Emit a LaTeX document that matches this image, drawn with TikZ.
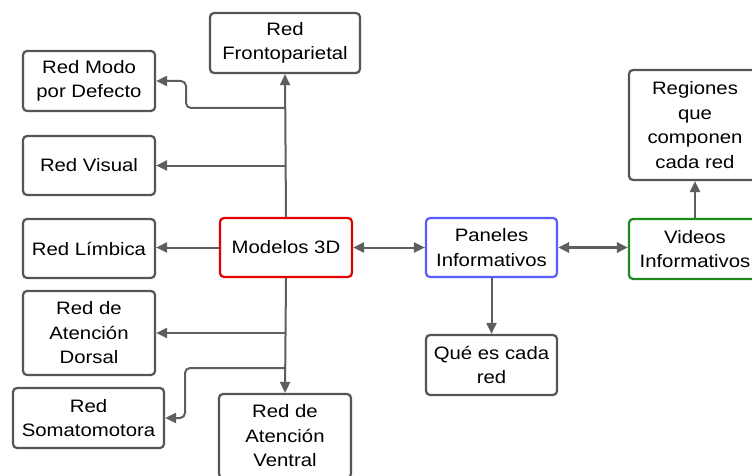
\documentclass[tikz,border=0pt]{standalone}
\usepackage{fontspec}
\setmainfont[FakeStretch=1.13]{Liberation Sans}
\usetikzlibrary{arrows.meta}
\definecolor{lgray}{HTML}{5E5E5E}
\definecolor{bgray}{HTML}{555555}
\definecolor{bred}{HTML}{E00000}
\definecolor{bblue}{HTML}{5B5BFF}
\definecolor{bgreen}{HTML}{1E8A1E}
\tikzset{
  box/.style={draw=bgray, line width=2.2pt, rounded corners=4pt, fill=white,
    align=center, inner sep=0pt, font=\fontsize{18}{24.5}\selectfont,
    text=black},
  conn/.style={draw=lgray, line width=2pt, rounded corners=5pt,
    -{Triangle[length=11pt,width=10pt]}},
  dconn/.style={conn, {Triangle[length=11pt,width=10pt]}-{Triangle[length=11pt,width=10pt]}},
}
\begin{document}
\begin{tikzpicture}[x=1pt,y=-1pt]
\clip (0,0) rectangle (752,476);
\fill[white] (0,0) rectangle (752,476);
% nodes
\node[box, minimum width=150pt, minimum height=60pt] (fp) at (285,43) {Red\\Frontoparietal};
\node[box, minimum width=132pt, minimum height=60pt] (modo) at (89,81) {Red Modo\\por Defecto};
\node[box, minimum width=132pt, minimum height=59pt] (visual) at (89,165.5) {Red Visual};
\node[box, minimum width=132pt, minimum height=59pt] (limb) at (89,248.5) {Red Límbica};
\node[box, draw=bred, minimum width=132pt, minimum height=59pt] (m3d) at (286,247.5) {Modelos 3D};
\node[box, minimum width=132pt, minimum height=84pt] (dorsal) at (89,333) {Red de\\Atención\\Dorsal};
\node[box, minimum width=151pt, minimum height=60pt] (soma) at (88.5,418) {Red\\Somatomotora};
\node[box, minimum width=132pt, minimum height=84pt] (ventral) at (285,436) {Red de\\Atención\\Ventral};
\node[box, draw=bblue, minimum width=131pt, minimum height=59pt] (pan) at (491.5,247.5) {Paneles\\Informativos};
\node[box, minimum width=131pt, minimum height=60pt] (que) at (491.5,365) {Qué es cada\\red};
\node[box, draw=bgreen, minimum width=132pt, minimum height=60pt] (vid) at (695,249) {Videos\\Informativos};
\node[box, minimum width=132pt, minimum height=110pt] (reg) at (695,125) {Regiones\\que\\componen\\cada red};
% connectors
\coordinate (tt) at (286,108);
\coordinate (tv) at (286,165.5);
\coordinate (bd) at (286,333);
\coordinate (bs) at (286,368);
\draw[conn] (m3d.north) -- (fp.south);
\draw[conn] (tt) -- (186,108) -- (186,81) -- (modo.east);
\draw[conn] (tv) -- (visual.east);
\draw[conn] (m3d.west) -- (limb.east |- m3d.west);
\draw[conn] (m3d.south) -- (ventral.north);
\draw[conn] (bd) -- (dorsal.east);
\draw[conn] (bs) -- (185,368) -- (185,418) -- (soma.east);
\draw[dconn] (m3d.east) -- (pan.west);
\draw[dconn, line width=2.8pt] (pan.east) -- (vid.west |- pan.east);
\draw[conn] (pan.south) -- (que.north);
\draw[conn] (vid.north) -- (reg.south);
\end{tikzpicture}
\end{document}
